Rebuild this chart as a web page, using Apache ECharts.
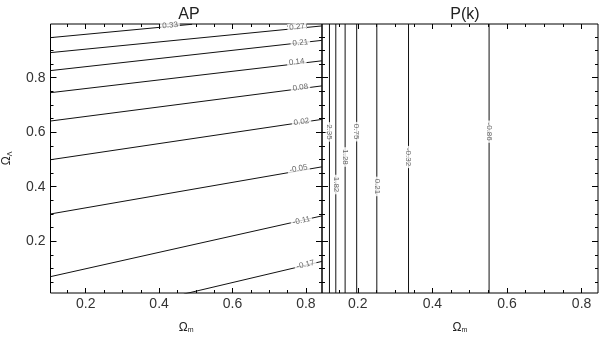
<!DOCTYPE html>
<html>
<head>
<meta charset="utf-8">
<script src="https://cdn.jsdelivr.net/npm/echarts@6/dist/echarts.min.js"></script>
<style>
  html, body { margin: 0; padding: 0; background: #fff; }
  #chart { width: 600px; height: 339px; }
</style>
</head>
<body>
<div id="chart"></div>
<script>
// axis ranges (Omega_m, Omega_Lambda)
const omRange = [0.104, 0.844]
const olRange = [0.01, 0.997]
const majorTicks = [0.2, 0.4, 0.6, 0.8]
const minorTicks = [0.05, 0.1, 0.15, 0.25, 0.3, 0.35, 0.45, 0.5, 0.55, 0.65, 0.7, 0.75, 0.85, 0.9, 0.95]

// AP panel contours: level, start point, end point, label point
const apLevels = ['0.33', '0.27', '0.21', '0.14', '0.08', '0.02', '-0.05', '-0.11', '-0.17']
const apStart = [[0.104, 0.947], [0.104, 0.892], [0.104, 0.826], [0.104, 0.745], [0.104, 0.641],
  [0.104, 0.499], [0.104, 0.300], [0.104, 0.070], [0.467, 0.006]]
const apEnd = [[0.490, 0.996], [0.844, 0.990], [0.844, 0.937], [0.844, 0.862], [0.844, 0.770],
  [0.844, 0.647], [0.844, 0.473], [0.844, 0.293], [0.844, 0.126]]
const apLabelAt = [[0.430, 0.992], [0.776, 0.986], [0.785, 0.928], [0.775, 0.858], [0.785, 0.764],
  [0.788, 0.638], [0.780, 0.466], [0.788, 0.275], [0.799, 0.114]]

// P(k) panel contours: vertical lines at constant Omega_m
const pkLevels = ['2.35', '1.82', '1.28', '0.75', '0.21', '-0.32', '-0.86']
const pkOm = [0.124, 0.141, 0.166, 0.197, 0.251, 0.336, 0.552]
const pkLabelY = [0.601, 0.408, 0.509, 0.602, 0.401, 0.509, 0.602]

const FONT = 'Liberation Sans, Arial, sans-serif'
const chart = echarts.init(document.getElementById('chart'))

const axisBase = (type, gridIndex, position, values, len, labels) => {
  const range = type === 'x' ? omRange : olRange
  return {
    type: 'value',
    gridIndex,
    position,
    min: range[0],
    max: range[1],
    splitLine: { show: false },
    axisLine: { show: false },
    axisTick: { show: true, inside: true, length: len, customValues: values, lineStyle: { color: '#000', width: 1 } },
    axisLabel: labels
      ? { show: true, customValues: majorTicks, color: '#333', fontSize: 14, fontFamily: FONT, margin: type === 'x' ? 4 : 5, formatter: v => v.toFixed(1) }
      : { show: false },
  }
}

const nameRich = {
  o: { fontSize: 12, fontFamily: FONT, color: '#222' },
  s: { fontSize: 7, fontFamily: FONT, color: '#222', padding: [6, 0, 0, 0] },
}

const xAxes = []
const yAxes = []
;[0, 1].forEach(g => {
  const xMain = axisBase('x', g, 'bottom', majorTicks, 5, true)
  xMain.name = '{o|Ω}{s|m}'
  xMain.nameLocation = 'middle'
  xMain.nameGap = 28
  xMain.nameTextStyle = { rich: nameRich }
  xAxes.push(xMain,
    axisBase('x', g, 'bottom', minorTicks, 3, false),
    axisBase('x', g, 'top', majorTicks, 5, false),
    axisBase('x', g, 'top', minorTicks, 3, false))
  const yMain = axisBase('y', g, 'left', majorTicks, 6, g === 0)
  if (g === 0) {
    yMain.name = '{o|Ω}{s|Λ}'
    yMain.nameLocation = 'middle'
    yMain.nameGap = 37
    yMain.nameRotate = 90
    yMain.nameTextStyle = { rich: nameRich }
  }
  yAxes.push(yMain,
    axisBase('y', g, 'left', minorTicks, 3, false),
    axisBase('y', g, 'right', majorTicks, 6, false),
    axisBase('y', g, 'right', minorTicks, 3, false))
})

const lineStyle = { color: '#111', width: 1 }
const series = []

apLevels.forEach((lv, i) => {
  series.push({
    type: 'line', xAxisIndex: 0, yAxisIndex: 0, name: 'AP ' + lv,
    data: [apStart[i], apEnd[i]], symbol: 'none', lineStyle, silent: true, z: 2,
  })
})
pkLevels.forEach((lv, i) => {
  series.push({
    type: 'line', xAxisIndex: 4, yAxisIndex: 4, name: 'P(k) ' + lv,
    data: [[pkOm[i], olRange[0]], [pkOm[i], olRange[1]]], symbol: 'none', lineStyle, silent: true, z: 2,
  })
})

const labelStyle = {
  show: true, position: 'inside', formatter: '{b}', fontSize: 8, fontFamily: FONT,
  color: '#444', backgroundColor: '#fff', padding: [0, 2],
}

const apLabelSeries = angles => ({
  type: 'scatter', id: 'apLabels', xAxisIndex: 0, yAxisIndex: 0, symbolSize: 1,
  itemStyle: { color: 'rgba(0,0,0,0)' }, silent: true, z: 5,
  data: apLevels.map((lv, i) => ({ name: lv, value: apLabelAt[i], label: { ...labelStyle, rotate: angles[i] } })),
})

series.push(apLabelSeries(apLevels.map(() => 0)))
series.push({
  type: 'scatter', id: 'pkLabels', xAxisIndex: 4, yAxisIndex: 4, symbolSize: 1,
  itemStyle: { color: 'rgba(0,0,0,0)' }, silent: true, z: 5,
  data: pkLevels.map((lv, i) => ({ name: lv, value: [pkOm[i], pkLabelY[i]], label: { ...labelStyle, rotate: -90 } })),
})

const option = {
  animation: false,
  backgroundColor: '#fff',
  title: [
    { text: 'AP', left: 184, top: 2, textAlign: 'center', textStyle: { fontSize: 16, fontWeight: 'normal', color: '#222', fontFamily: FONT } },
    { text: 'P(k)', left: 460, top: 2, textAlign: 'center', textStyle: { fontSize: 16, fontWeight: 'normal', color: '#222', fontFamily: FONT } },
  ],
  grid: [
    { left: 47, top: 24, width: 275, height: 275, show: true, borderColor: '#000', borderWidth: 1, backgroundColor: 'transparent' },
    { left: 322, top: 24, width: 276, height: 275, show: true, borderColor: '#000', borderWidth: 1, backgroundColor: 'transparent' },
  ],
  xAxis: xAxes,
  yAxis: yAxes,
  series,
}

chart.setOption(option)

// rotate AP labels along their contour lines
const angles = apLevels.map((lv, i) => {
  const p0 = chart.convertToPixel({ xAxisIndex: 0, yAxisIndex: 0 }, apStart[i])
  const p1 = chart.convertToPixel({ xAxisIndex: 0, yAxisIndex: 0 }, apEnd[i])
  return -Math.atan2(p1[1] - p0[1], p1[0] - p0[0]) * 180 / Math.PI
})
chart.setOption({ series: [apLabelSeries(angles)] })
</script>
</body>
</html>
